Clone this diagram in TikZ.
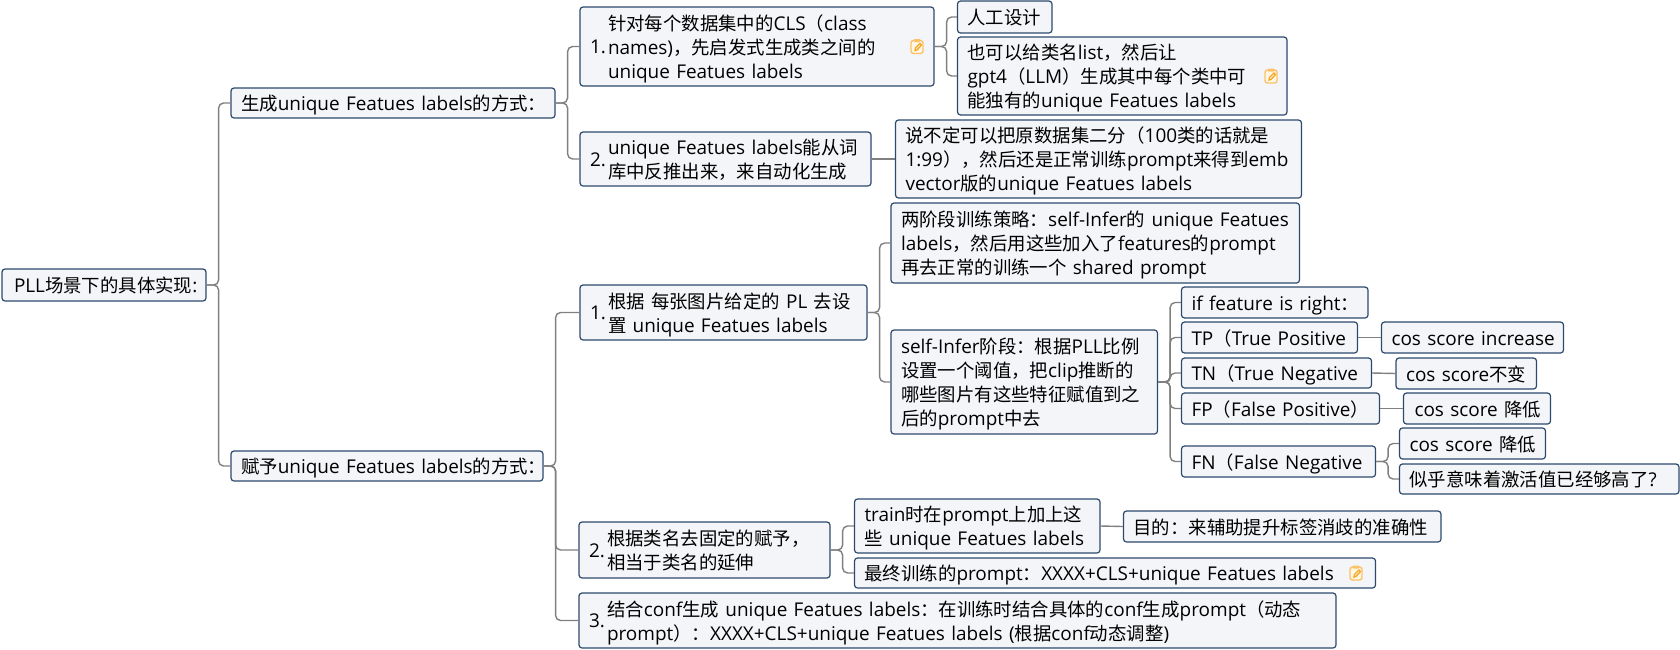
\documentclass[tikz,border=0pt]{standalone}
\usepackage{fontspec}
\setmainfont{Open Sans}[Scale=1.03]
\newfontfamily\cjkf{Noto Sans CJK SC}
\newcommand\latf{\rmfamily}
\XeTeXinterchartokenstate=1
\newcount\cc
\cc="2E80 \loop\ifnum\cc<"A000 \XeTeXcharclass\cc=7 \advance\cc 1 \repeat
\cc="FF00 \loop\ifnum\cc<"FFF0 \XeTeXcharclass\cc=7 \advance\cc 1 \repeat
\XeTeXinterchartoks 0 7 = {\cjkf}
\XeTeXinterchartoks 7 0 = {\latf}
\XeTeXinterchartoks 4095 7 = {\cjkf}
\XeTeXinterchartoks 4095 0 = {\latf}
\definecolor{boxfill}{HTML}{F3F5F8}
\definecolor{boxline}{HTML}{2C4A6E}
\definecolor{connline}{HTML}{808080}
\definecolor{noteor}{HTML}{FBC26B}
\definecolor{notefill}{HTML}{FFF6E3}
\definecolor{penor}{HTML}{F5A623}
\tikzset{
  x=1pt,y=-1pt,
  boxnode/.style={draw=boxline,fill=boxfill,line width=1.2pt,rounded corners=3pt,align=left,inner ysep=0pt,
    font=\fontsize{18.4}{24}\selectfont},
  conn/.style={draw=connline,line width=1.4pt,rounded corners=5pt},
  notepic/.pic={
    \draw[noteor,fill=notefill,line width=1.4pt,rounded corners=2.5pt] (-6,-6) rectangle (6,7);
    \fill[noteor,rounded corners=1pt] (-3.5,-7.5) rectangle (3.5,-4.5);
    \draw[penor,line width=1.3pt] (-2,4) -- (-1.5,1.5) -- (3,-3) -- (4.5,-1.5) -- (0,3.5) -- cycle;
  }
}
\newcommand\T[1]{\raisebox{-3pt}[\height][\depth]{\begin{tabular}{@{}l@{}}#1\end{tabular}}}
\newcommand\N[2]{\raisebox{-3pt}[\height][\depth]{\makebox[18pt][l]{#1}\begin{tabular}{@{}l@{}}#2\end{tabular}}}
% \bx[pad]{name}{x1}{y1}{x2}{y2}{text}
\newcommand\bx[6][10]{%
  \pgfmathsetmacro\cxv{(#3+#5)/2}\pgfmathsetmacro\cyv{(#4+#6)/2}%
  \pgfmathsetmacro\twv{#5-#3-#1-#1}\pgfmathsetmacro\hv{#6-#4}%
  \node[boxnode,inner xsep=#1pt,text width=\twv pt,minimum height=\hv pt] (#2) at (\cxv,\cyv) {\BXTXT};}
\newcommand\bxx[7][10]{\def\BXTXT{#7}\bx[#1]{#2}{#3}{#4}{#5}{#6}}
\begin{document}
\begin{tikzpicture}
\useasboundingbox (0,0) rectangle (1680,649);
\bxx[12]{root}{2}{269}{206}{301}{\T{PLL场景下的具体实现:}}
\bxx{A}{231}{88}{555}{118}{\T{生成unique Featues labels的方式：}}
\bxx{B}{231}{451}{543}{481}{\T{赋予unique Featues labels的方式：}}
\bxx{A1}{580}{7}{934}{86}{\N{1.}{针对每个数据集中的CLS（class\\names)，先启发式生成类之间的\\unique Featues labels}}
\bxx{A2}{580}{132}{871}{186}{\N{2.}{unique Featues labels能从词\\库中反推出来，来自动化生成}}
\bxx{m1}{957.5}{1}{1052}{33}{\T{人工设计}}
\bxx{m2}{957.5}{37}{1287}{115}{\T{也可以给类名list，然后让\\gpt4（LLM）生成其中每个类中可\\能独有的unique Featues labels}}
\bxx{m3}{895.5}{120}{1301.5}{198}{\T{说不定可以把原数据集二分（100类的话就是\\1:99），然后还是正常训练prompt来得到emb\\vector版的unique Featues labels}}
\bxx{B1}{580}{285}{867}{340}{\N{1.}{根据 每张图片给定的 PL 去设\\置 unique Featues labels}}
\bxx{B2}{579}{522}{830}{578}{\N{2.}{根据类名去固定的赋予，\\相当于类名的延伸}}
\bxx{B3}{579}{593}{1336}{648}{\N{3.}{结合conf生成 unique Featues labels：在训练时结合具体的conf生成prompt（动态\\prompt）：XXXX+CLS+unique Featues labels (根据conf动态调整)}}
\bxx{two}{891}{203}{1299.5}{283}{\T{两阶段训练策略：self-Infer的 unique Featues\\labels，然后用这些加入了features的prompt\\再去正常的训练一个 shared prompt}}
\bxx{self}{891}{330}{1157.5}{434}{\T{self-Infer阶段：根据PLL比例\\设置一个阈值，把clip推断的\\哪些图片有这些特征赋值到之\\后的prompt中去}}
\bxx{iff}{1181.5}{287}{1368}{318}{\T{if feature is right：}}
\bxx{TP}{1181.5}{322}{1357.5}{353}{\T{TP（True Positive}}
\bxx{TN}{1181.5}{358}{1371.5}{388}{\T{TN（True Negative}}
\bxx{FP}{1181.5}{393}{1379.5}{424}{\T{FP（False Positive）}}
\bxx{FN}{1181.5}{446}{1375.5}{477}{\T{FN（False Negative}}
\bxx{c1}{1381.5}{322}{1563.5}{353}{\T{cos score increase}}
\bxx{c2}{1396}{358}{1536.5}{389}{\T{cos score不变}}
\bxx{c3}{1403.5}{393}{1550.5}{424}{\hspace*{1pt}\T{cos score 降低}}
\bxx{c4}{1399.5}{428}{1545.5}{459}{\T{cos score 降低}}
\bxx{c5}{1399.5}{464}{1679}{494}{\T{似乎意味着激活值已经够高了?}}
\bxx{t1}{854.5}{499}{1100}{553}{\T{train时在prompt上加上这\\些 unique Featues labels}}
\bxx{t2}{854.5}{558}{1375.5}{588}{\T{最终训练的prompt：XXXX+CLS+unique Featues labels}}
\bxx{t3}{1123.5}{511}{1441}{542}{\T{目的：来辅助提升标签消歧的准确性}}
\pic at (917,46.5) {notepic};
\pic at (1271,76) {notepic};
\pic at (1356,573) {notepic};
\foreach \a/\b in {root/A,root/B,A/A1,A/A2,A1/m1,A1/m2,B/B1,B/B2,B/B3,B1/two,B1/self,
  self/iff,self/TP,self/TN,self/FP,self/FN,FN/c4,FN/c5,B2/t1,B2/t2}
  \draw[conn] (\a.east) -- ++(12,0) |- (\b.west);
\foreach \a/\b in {A2/m3,TP/c1,TN/c2,FP/c3,t1/t3}
  \draw[conn] (\a.east) -- (\b.west);
\end{tikzpicture}
\end{document}
